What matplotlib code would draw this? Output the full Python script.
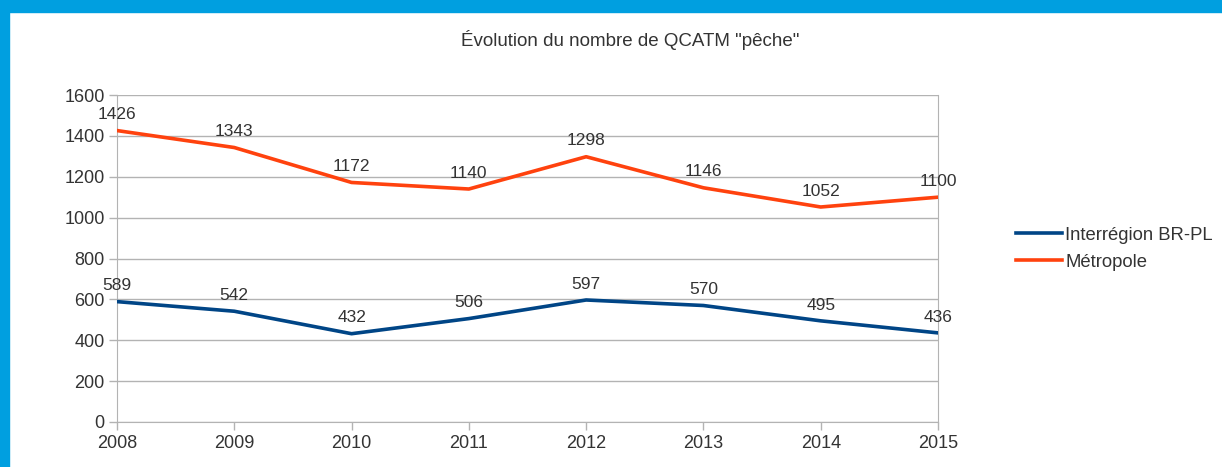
import matplotlib
matplotlib.use("Agg")
import matplotlib.pyplot as plt
from matplotlib.patches import Rectangle

plt.rcParams["font.family"] = ["Liberation Sans", "DejaVu Sans"]

years = [2008, 2009, 2010, 2011, 2012, 2013, 2014, 2015]
interregion = [589, 542, 432, 506, 597, 570, 495, 436]
metropole = [1426, 1343, 1172, 1140, 1298, 1146, 1052, 1100]
series_names = ["Interrégion BR-PL", "Métropole"]

_BLUE = "#004586"
_ORANGE = "#FF420E"
_GRID = "#b3b3b3"
_TEXT = "#333333"

fig = plt.figure(figsize=(12.22, 4.67), dpi=100, facecolor="white")

# blue frame of the screenshot (top band and left band)
fig.patches.append(Rectangle((0, 1 - 12 / 467), 1, 12 / 467, transform=fig.transFigure,
                             color="#009FE0", zorder=0))
fig.patches.append(Rectangle((0, 0), 9 / 1222, 1, transform=fig.transFigure,
                             color="#009FE0", zorder=0))

ax = fig.add_axes([117 / 1222, 45 / 467, (938 - 117) / 1222, (422 - 95) / 467])

for values, color, name in ((interregion, _BLUE, series_names[0]),
                            (metropole, _ORANGE, series_names[1])):
    ax.plot(years, values, color=color, linewidth=2.6, label=name, zorder=3)
    for x, v in zip(years, values):
        ax.annotate(f"{v}", (x, v), xytext=(0, 6), textcoords="offset points",
                    ha="center", va="bottom", fontsize=12.5, color=_TEXT)

ax.set_xlim(2008, 2015)
ax.set_ylim(0, 1600)
ax.set_xticks(years)
ax.set_yticks(range(0, 1601, 200))
ax.grid(axis="y", color=_GRID, linewidth=1)
ax.set_axisbelow(True)
for side in ("left", "bottom", "right", "top"):
    ax.spines[side].set_color(_GRID)
ax.spines["top"].set_visible(False)
ax.tick_params(colors=_GRID, labelcolor=_TEXT, labelsize=13, length=6, width=1, pad=3)

fig.text(630 / 1222, 1 - 40 / 467, 'Évolution du nombre de QCATM "pêche"',
         fontsize=13.5, color=_TEXT, ha="center", va="center")

ax.legend(loc="center left", bbox_to_anchor=(1.075, 0.53), frameon=False,
          fontsize=13.3, handlelength=2.5, handletextpad=0.15, labelspacing=0.55,
          labelcolor=_TEXT)

fig.savefig("out.png", dpi=100, facecolor="white")
plt.close(fig)
